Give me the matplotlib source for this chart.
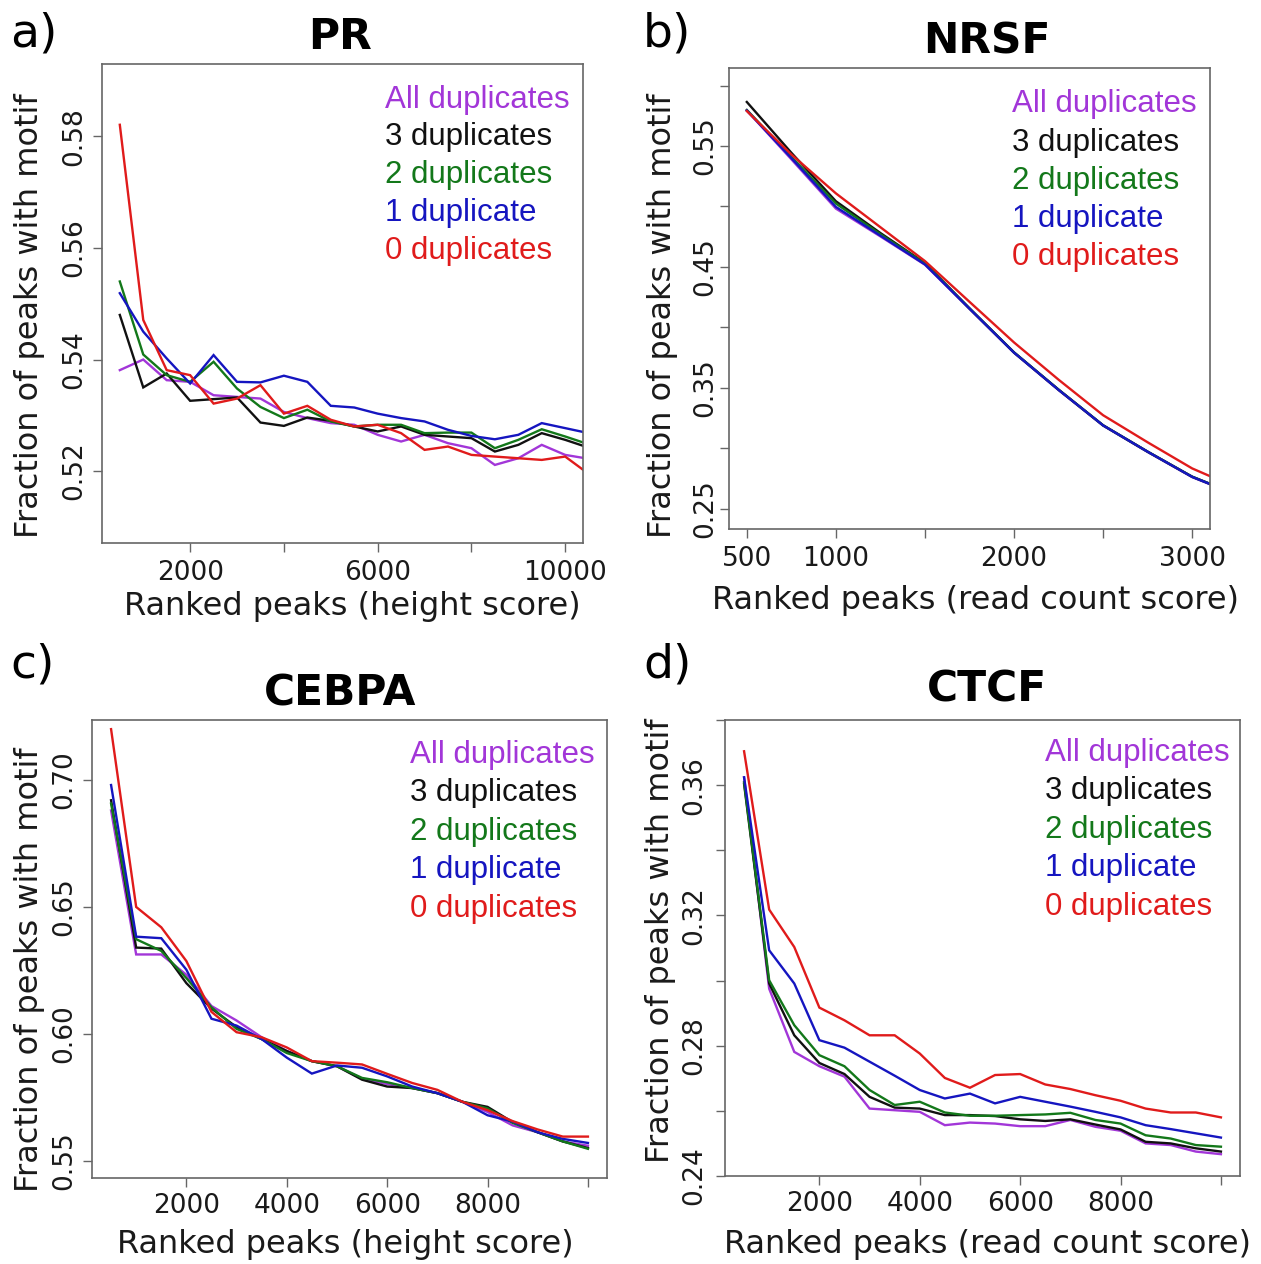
import numpy as np
import matplotlib.pyplot as plt

# fraction of peaks with motif, per duplicate class
series_names = ["All duplicates", "3 duplicates", "2 duplicates", "1 duplicate", "0 duplicates"]
series_colors = ["#A236D8", "#111111", "#13781A", "#1515C0", "#E01B1B"]

# PR (height score)
pr_x = np.arange(500, 11000, 500)
pr_all = [0.5381, 0.5400, 0.5363, 0.5360, 0.5336, 0.5333, 0.5330, 0.5306, 0.5295, 0.5286, 0.5283,
          0.5265, 0.5253, 0.5265, 0.5250, 0.5241, 0.5211, 0.5223, 0.5247, 0.5229, 0.5222]
pr_dup3 = [0.5480, 0.5350, 0.5375, 0.5326, 0.5329, 0.5332, 0.5287, 0.5281, 0.5296, 0.5290, 0.5280,
           0.5271, 0.5280, 0.5265, 0.5262, 0.5259, 0.5235, 0.5247, 0.5268, 0.5256, 0.5242]
pr_dup2 = [0.5540, 0.5409, 0.5372, 0.5360, 0.5396, 0.5348, 0.5315, 0.5295, 0.5310, 0.5289, 0.5280,
           0.5283, 0.5283, 0.5268, 0.5269, 0.5269, 0.5241, 0.5256, 0.5275, 0.5262, 0.5248]
pr_dup1 = [0.5519, 0.5450, 0.5402, 0.5357, 0.5408, 0.5360, 0.5359, 0.5371, 0.5360, 0.5317, 0.5314,
           0.5303, 0.5295, 0.5289, 0.5274, 0.5263, 0.5257, 0.5265, 0.5286, 0.5277, 0.5268]
pr_dup0 = [0.5821, 0.5471, 0.5381, 0.5372, 0.5321, 0.5330, 0.5354, 0.5303, 0.5317, 0.5292, 0.5280,
           0.5283, 0.5268, 0.5238, 0.5244, 0.5229, 0.5226, 0.5223, 0.5220, 0.5226, 0.5195]

# NRSF (read count score)
nrsf_x = [500, 750, 1000, 1250, 1500, 1750, 2000, 2250, 2500, 2750, 3000, 3100]
nrsf_all = [0.5794, 0.5390, 0.4982, 0.4752, 0.4518, 0.4153, 0.3789, 0.3481, 0.3187, 0.2969, 0.2761, 0.2702]
nrsf_dup3 = [0.5864, 0.5444, 0.5043, 0.4780, 0.4532, 0.4157, 0.3793, 0.3485, 0.3190, 0.2972, 0.2765, 0.2706]
nrsf_dup2 = [0.5798, 0.5410, 0.5024, 0.4770, 0.4528, 0.4156, 0.3792, 0.3484, 0.3189, 0.2971, 0.2764, 0.2705]
nrsf_dup1 = [0.5794, 0.5400, 0.4996, 0.4758, 0.4520, 0.4155, 0.3791, 0.3483, 0.3189, 0.2971, 0.2763, 0.2704]
nrsf_dup0 = [0.5789, 0.5430, 0.5108, 0.4828, 0.4548, 0.4211, 0.3875, 0.3567, 0.3273, 0.3049, 0.2833, 0.2769]

# CEBPA (height score)
cebpa_x = np.arange(500, 10500, 500)
cebpa_all = [0.6880, 0.6313, 0.6313, 0.6233, 0.6110, 0.6053, 0.5987, 0.5933, 0.5893, 0.5873,
             0.5824, 0.5803, 0.5787, 0.5767, 0.5733, 0.5693, 0.5640, 0.5613, 0.5577, 0.5560]
cebpa_dup3 = [0.6920, 0.6340, 0.6336, 0.6200, 0.6100, 0.6027, 0.5980, 0.5933, 0.5893, 0.5873,
              0.5820, 0.5793, 0.5787, 0.5767, 0.5733, 0.5713, 0.5653, 0.5613, 0.5577, 0.5551]
cebpa_dup2 = [0.6907, 0.6373, 0.6327, 0.6220, 0.6105, 0.6020, 0.5980, 0.5925, 0.5893, 0.5873,
              0.5827, 0.5810, 0.5787, 0.5767, 0.5733, 0.5707, 0.5650, 0.5613, 0.5577, 0.5548]
cebpa_dup1 = [0.6980, 0.6383, 0.6377, 0.6253, 0.6060, 0.6033, 0.5980, 0.5907, 0.5844, 0.5876,
              0.5867, 0.5833, 0.5793, 0.5767, 0.5733, 0.5680, 0.5655, 0.5613, 0.5587, 0.5571]
cebpa_dup0 = [0.7200, 0.6500, 0.6420, 0.6287, 0.6087, 0.6007, 0.5987, 0.5947, 0.5893, 0.5887,
              0.5880, 0.5843, 0.5807, 0.5780, 0.5733, 0.5700, 0.5657, 0.5624, 0.5596, 0.5596]

# CTCF (read count score)
ctcf_x = np.arange(500, 10500, 500)
ctcf_all = [0.3624, 0.2975, 0.2781, 0.2737, 0.2705, 0.2607, 0.2602, 0.2597, 0.2556, 0.2564,
            0.2561, 0.2553, 0.2553, 0.2572, 0.2551, 0.2539, 0.2500, 0.2495, 0.2475, 0.2467]
ctcf_dup3 = [0.3604, 0.2991, 0.2832, 0.2747, 0.2713, 0.2643, 0.2610, 0.2607, 0.2587, 0.2587,
             0.2584, 0.2574, 0.2569, 0.2574, 0.2558, 0.2543, 0.2505, 0.2500, 0.2485, 0.2475]
ctcf_dup2 = [0.3609, 0.3001, 0.2863, 0.2771, 0.2737, 0.2664, 0.2618, 0.2628, 0.2595, 0.2585,
             0.2585, 0.2587, 0.2589, 0.2594, 0.2572, 0.2561, 0.2525, 0.2515, 0.2495, 0.2490]
ctcf_dup1 = [0.3624, 0.3093, 0.2991, 0.2817, 0.2794, 0.2751, 0.2708, 0.2664, 0.2638, 0.2653,
             0.2623, 0.2643, 0.2628, 0.2613, 0.2597, 0.2580, 0.2556, 0.2544, 0.2531, 0.2518]
ctcf_dup0 = [0.3704, 0.3218, 0.3103, 0.2917, 0.2878, 0.2832, 0.2832, 0.2776, 0.2701, 0.2671,
             0.2710, 0.2713, 0.2681, 0.2667, 0.2648, 0.2631, 0.2607, 0.2595, 0.2595, 0.2580]

W, H = 1261, 1264
fig = plt.figure(figsize=(W / 100, H / 100), dpi=100)

BOX = "#666666"
TXT = "#1a1a1a"


def fx(x):
    return x / W


def fy(y):
    return 1 - y / H


def panel(box, x, ys, xlim, ylim, xticks, xlabels, yticks, ylabels,
          title, title_xy, tag, tag_xy, xlabel, xlabel_xy, ylabel_xy,
          legend_x, legend_y, xpad, ypad):
    left, top, right, bottom = box
    ax = fig.add_axes([fx(left), fy(bottom), (right - left) / W, (bottom - top) / H])
    for y, c in zip(ys, series_colors):
        ax.plot(x, y, color=c, lw=1.7, solid_joinstyle="miter")
    ax.set_xlim(*xlim)
    ax.set_ylim(*ylim)
    ax.set_xticks(xticks)
    ax.set_xticklabels(xlabels)
    ax.set_yticks(yticks)
    ax.set_yticklabels(ylabels, rotation=90, va="center")
    for s in ax.spines.values():
        s.set_color(BOX)
        s.set_linewidth(1.2)
    ax.tick_params(axis="both", direction="out", length=6.5, width=1.0, color=BOX,
                   labelsize=19, labelcolor=TXT)
    ax.tick_params(axis="x", pad=xpad)
    ax.tick_params(axis="y", pad=ypad)

    fig.text(fx(title_xy[0]), fy(title_xy[1]), title, ha="center", va="center",
             fontsize=30.5, fontweight="bold", color="black")
    fig.text(fx(tag_xy[0]), fy(tag_xy[1]), tag, ha="left", va="center", fontsize=34, color="black")
    fig.text(fx(xlabel_xy[0]), fy(xlabel_xy[1]), xlabel, ha="center", va="center",
             fontsize=23, color=TXT)
    fig.text(fx(ylabel_xy[0]), fy(ylabel_xy[1]), "Fraction of peaks with motif",
             ha="center", va="center", rotation=90, fontsize=23, color=TXT)
    for i, (name, c) in enumerate(zip(series_names, series_colors)):
        fig.text(fx(legend_x), fy(legend_y[i]), name, ha="left", va="center",
                 fontsize=22.5, color=c, family="Liberation Sans")
    return ax


# a) PR
panel((102, 64, 583, 543), pr_x, [pr_all, pr_dup3, pr_dup2, pr_dup1, pr_dup0],
      (120, 10380), (0.5071, 0.5930),
      [2000, 4000, 6000, 8000, 10000], ["2000", "", "6000", "", "10000"],
      [0.52, 0.54, 0.56, 0.58], ["0.52", "0.54", "0.56", "0.58"],
      "PR", (340, 37), "a)", (10, 34), "Ranked peaks (height score)", (352, 607), (30, 316),
      385, [100, 137.5, 175.5, 213.5, 251.5], 5.8, 4.0)

# b) NRSF
panel((729, 68, 1210, 529), nrsf_x, [nrsf_all, nrsf_dup3, nrsf_dup2, nrsf_dup1, nrsf_dup0],
      (400, 3100), (0.2332, 0.6145),
      [500, 1000, 1500, 2000, 2500, 3000], ["500", "1000", "", "2000", "", "3000"],
      [0.25, 0.30, 0.35, 0.40, 0.45, 0.50, 0.55, 0.60], ["0.25", "", "0.35", "", "0.45", "", "0.55", ""],
      "NRSF", (987, 42), "b)", (643, 34), "Ranked peaks (read count score)", (975, 600), (662, 316),
      1012, [104, 143, 181.5, 219, 257.5], 6.0, 1.5)

# c) CEBPA
panel((92, 720, 607, 1178), cebpa_x, [cebpa_all, cebpa_dup3, cebpa_dup2, cebpa_dup1, cebpa_dup0],
      (120, 10380), (0.5433, 0.7236),
      [2000, 4000, 6000, 8000, 10000], ["2000", "4000", "6000", "8000", ""],
      [0.55, 0.60, 0.65, 0.70], ["0.55", "0.60", "0.65", "0.70"],
      "CEBPA", (340, 693), "c)", (10, 665), "Ranked peaks (height score)", (345, 1245), (30, 970),
      410, [755, 793.5, 832, 870, 908.5], 4.3, 4.0)

# d) CTCF
panel((725, 720, 1240, 1176), ctcf_x, [ctcf_all, ctcf_dup3, ctcf_dup2, ctcf_dup1, ctcf_dup0],
      (120, 10380), (0.24, 0.38),
      [2000, 4000, 6000, 8000, 10000], ["2000", "4000", "6000", "8000", ""],
      [0.24, 0.26, 0.28, 0.30, 0.32, 0.34, 0.36, 0.38], ["0.24", "", "0.28", "", "0.32", "", "0.36", ""],
      "CTCF", (987, 689), "d)", (643, 665), "Ranked peaks (read count score)", (987, 1245), (660, 941),
      1045, [753, 791.5, 830, 868, 906.5], 4.3, 6.0)

fig.savefig("out.png", dpi=100, facecolor="white")
